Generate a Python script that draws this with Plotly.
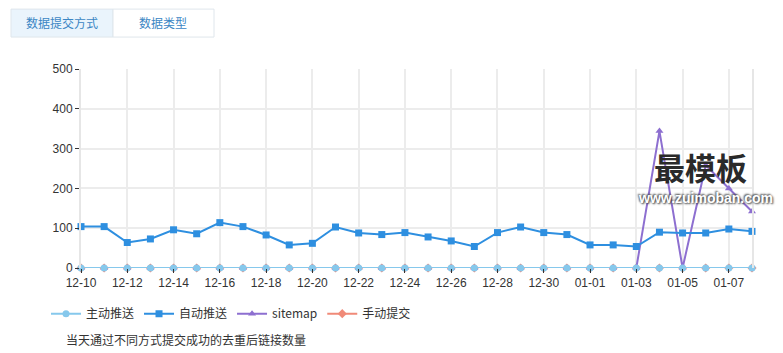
import plotly.graph_objects as go

dates = ["12-10","12-11","12-12","12-13","12-14","12-15","12-16","12-17","12-18","12-19",
         "12-20","12-21","12-22","12-23","12-24","12-25","12-26","12-27","12-28","12-29",
         "12-30","12-31","01-01","01-02","01-03","01-04","01-05","01-06","01-07","01-08"]
zhudong = [0]*30
zidong = [104,104,64,73,96,86,114,104,83,58,62,103,88,84,89,78,68,54,89,103,
          89,84,58,58,54,90,88,88,98,92]
sitemap = [0]*24 + [0,344,0,258,200,142]
shoudong = [0]*30

W, H = 783, 353
L, R, T, B = 81, 752, 69, 268.3
def px(x): return (x - L) / (R - L)
def py(y): return (B - y) / (B - T)

font_main = "Liberation Sans, Arial, Noto Sans CJK SC, sans-serif"
idx = list(range(len(dates)))

fig = go.Figure()
series = [
    ("手动提交", shoudong, "#f08a78", "diamond", 4),
    ("sitemap", sitemap, "#8d6fd0", "triangle-up", 3),
    ("自动推送", zidong, "#2e8fe0", "square", 2),
    ("主动推送", zhudong, "#86c8ec", "circle", 1),
]
for name, vals, col, sym, rank in series:
    fig.add_trace(go.Scatter(
        x=idx, y=vals, name=name, mode="lines+markers",
        line=dict(color=col, width=2),
        marker=dict(color=col, symbol=sym, size=7),
        cliponaxis=False, legendrank=rank, hoverinfo="skip"))

fig.update_layout(
    width=W, height=H,
    margin=dict(l=L, r=W - R, t=T, b=H - B),
    paper_bgcolor="white", plot_bgcolor="white",
    font=dict(family=font_main, size=12, color="#333"),
    showlegend=True,
    legend=dict(orientation="h", x=px(46), y=py(314), xanchor="left", yanchor="middle",
                traceorder="normal", itemwidth=30,
                font=dict(family="Noto Sans CJK SC, sans-serif", size=12, color="#333"),
                bgcolor="rgba(0,0,0,0)"),
    xaxis=dict(range=[0, 29], tickmode="array", tickvals=idx[::2], ticktext=dates[::2],
               showgrid=True, gridcolor="#ececec", gridwidth=2, zeroline=False,
               ticks="outside", ticklen=4, tickcolor="#333", showline=False,
               tickfont=dict(size=12, color="#333")),
    yaxis=dict(range=[0, 500], tickvals=[0,100,200,300,400,500],
               showgrid=True, gridcolor="#ececec", gridwidth=2, zeroline=False,
               showline=True, linecolor="#e6e6e6", linewidth=2, mirror=True,
               ticks="outside", ticklen=4, tickcolor="#333",
               tickfont=dict(size=12, color="#333")),
)

# tabs
fig.add_shape(type="rect", xref="paper", yref="paper", x0=px(11), x1=px(113), y0=py(37), y1=py(9),
              fillcolor="#eaf4fc", line=dict(color="#dfe6ec", width=1), layer="above")
fig.add_shape(type="rect", xref="paper", yref="paper", x0=px(113), x1=px(214), y0=py(37), y1=py(9),
              fillcolor="white", line=dict(color="#dfe6ec", width=1), layer="above")
fig.add_annotation(xref="paper", yref="paper", x=px(62), y=py(22), xanchor="center", yanchor="middle",
                   text="数据提交方式", showarrow=False,
                   font=dict(family="Noto Sans CJK SC", size=12, color="#3b86c4"))
fig.add_annotation(xref="paper", yref="paper", x=px(163), y=py(22), xanchor="center", yanchor="middle",
                   text="数据类型", showarrow=False,
                   font=dict(family="Noto Sans CJK SC", size=12, color="#3b86c4"))

# caption
fig.add_annotation(xref="paper", yref="paper", x=px(64), y=py(340), xanchor="left", yanchor="middle",
                   text="当天通过不同方式提交成功的去重后链接数量",
                   showarrow=False, font=dict(family="Noto Sans CJK SC", size=12, color="#333"))

# watermark
fig.add_annotation(xref="paper", yref="paper", x=px(700), y=py(167), xanchor="center", yanchor="middle",
                   text="<b>最模板</b>", showarrow=False, borderpad=0,
                   font=dict(family="Noto Sans CJK SC", size=31, color="#2a2a2a"))
fig.add_annotation(xref="paper", yref="paper", x=px(705), y=py(198), xanchor="center", yanchor="middle",
                   text="<b>www.zuimoban.com</b>", showarrow=False, borderpad=0,
                   font=dict(family="Liberation Sans, Arial", size=14, color="white",
                             shadow="1px 1px 2px #444, -1px -1px 2px #444"))

fig.write_html("out.html")
